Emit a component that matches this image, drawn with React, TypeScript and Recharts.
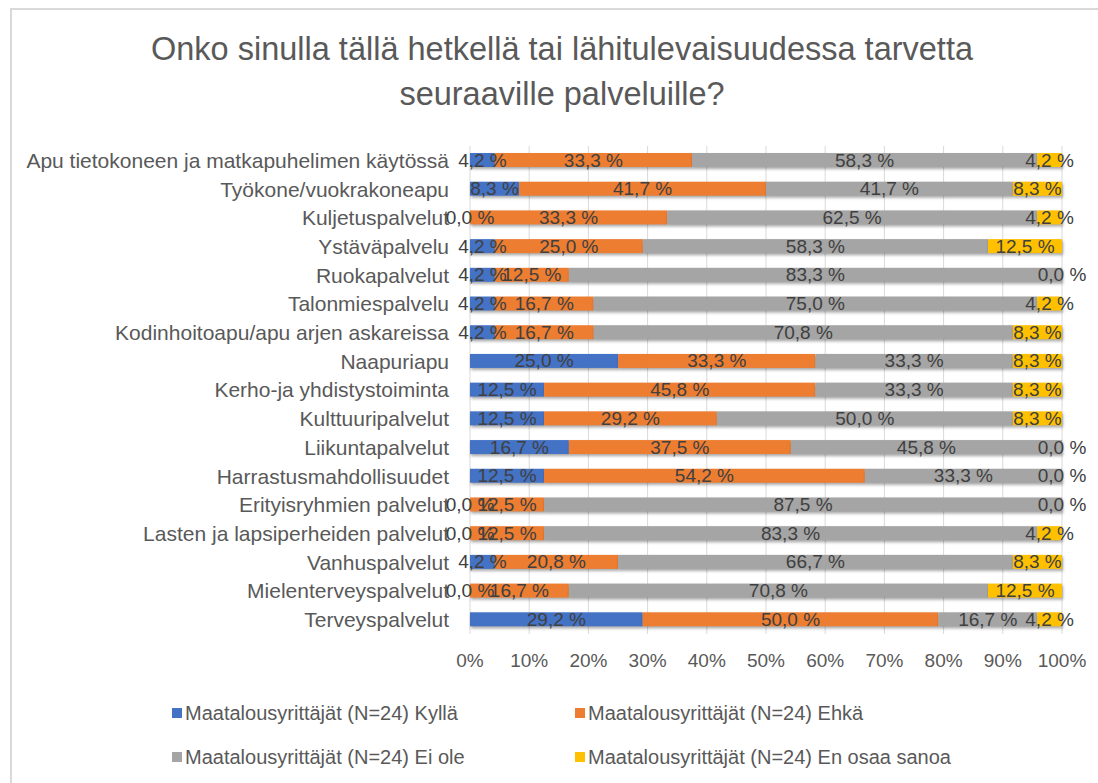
import { BarChart, Bar, XAxis, YAxis, CartesianGrid, LabelList } from "recharts";

const categories = [
  "Apu tietokoneen ja matkapuhelimen käytössä",
  "Työkone/vuokrakoneapu",
  "Kuljetuspalvelut",
  "Ystäväpalvelu",
  "Ruokapalvelut",
  "Talonmiespalvelu",
  "Kodinhoitoapu/apu arjen askareissa",
  "Naapuriapu",
  "Kerho-ja yhdistystoiminta",
  "Kulttuuripalvelut",
  "Liikuntapalvelut",
  "Harrastusmahdollisuudet",
  "Erityisryhmien palvelut",
  "Lasten ja lapsiperheiden palvelut",
  "Vanhuspalvelut",
  "Mielenterveyspalvelut",
  "Terveyspalvelut",
];

const kylla = [4.2, 8.3, 0.0, 4.2, 4.2, 4.2, 4.2, 25.0, 12.5, 12.5, 16.7, 12.5, 0.0, 0.0, 4.2, 0.0, 29.2];
const ehka = [33.3, 41.7, 33.3, 25.0, 12.5, 16.7, 16.7, 33.3, 45.8, 29.2, 37.5, 54.2, 12.5, 12.5, 20.8, 16.7, 50.0];
const eiOle = [58.3, 41.7, 62.5, 58.3, 83.3, 75.0, 70.8, 33.3, 33.3, 50.0, 45.8, 33.3, 87.5, 83.3, 66.7, 70.8, 16.7];
const enOsaa = [4.2, 8.3, 4.2, 12.5, 0.0, 4.2, 8.3, 8.3, 8.3, 8.3, 0.0, 0.0, 0.0, 4.2, 8.3, 12.5, 4.2];

const xTicks = [0, 0.1, 0.2, 0.3, 0.4, 0.5, 0.6, 0.7, 0.8, 0.9, 1];

const series = [
  { key: "kylla", name: "Maatalousyrittäjät (N=24) Kyllä", color: "#4472C4" },
  { key: "ehka", name: "Maatalousyrittäjät (N=24) Ehkä", color: "#ED7D31" },
  { key: "eiOle", name: "Maatalousyrittäjät (N=24) Ei ole", color: "#A5A5A5" },
  { key: "enOsaa", name: "Maatalousyrittäjät (N=24) En osaa sanoa", color: "#FFC000" },
];

const data = categories.map((name, i) => ({
  name,
  kylla: kylla[i],
  ehka: ehka[i],
  eiOle: eiOle[i],
  enOsaa: enOsaa[i],
}));

const FONT = "'Liberation Sans', Arial, sans-serif";

const fmt = (v: any) => `${Number(v).toFixed(1).replace(".", ",")} %`;

const ShadowRect = (props: any) => {
  const { x, y, width, height, fill } = props;
  if (!width || width <= 0) return null;
  return (
    <rect
      x={x}
      y={y}
      width={width}
      height={height}
      fill={fill}
      style={{ filter: "drop-shadow(1.5px 2.5px 1.5px rgba(0,0,0,0.35))" }}
    />
  );
};

// single-line label centred on the segment (no wrapping)
const SegLabel = (props: any) => {
  const { x, y, width, height, value } = props;
  return (
    <text
      x={Number(x) + Number(width) / 2}
      y={Number(y) + Number(height) / 2}
      textAnchor="middle"
      dominantBaseline="central"
      fill="#404040"
      fontSize={19}
      fontFamily={FONT}
    >
      {fmt(value)}
    </text>
  );
};

export default function App() {
  return (
    <div
      style={{
        position: "absolute",
        left: 0,
        top: 0,
        width: 1098,
        height: 783,
        background: "#fff",
        fontFamily: FONT,
        overflow: "hidden",
      }}
    >
      <div
        style={{
          position: "absolute",
          left: 10,
          top: 8,
          width: 1200,
          height: 900,
          border: "2px solid #d9d9d9",
        }}
      />
      <div
        style={{
          position: "absolute",
          left: 0,
          top: 27,
          width: 1124,
          textAlign: "center",
          fontSize: 32.5,
          lineHeight: "45px",
          color: "#595959",
        }}
      >
        Onko sinulla tällä hetkellä tai lähitulevaisuudessa tarvetta
        <br />
        seuraaville palveluille?
      </div>

      <div style={{ position: "absolute", left: 0, top: 0 }}>
        <BarChart
          width={1098}
          height={700}
          data={data}
          layout="vertical"
          stackOffset="expand"
          barSize={14}
          margin={{ top: 146, right: 36, left: 0, bottom: 0 }}
        >
          <CartesianGrid horizontal={false} stroke="#d9d9d9" strokeWidth={1} />
          <XAxis
            type="number"
            domain={[0, 1]}
            ticks={xTicks}
            tickFormatter={(v) => `${Math.round(v * 100)}%`}
            axisLine={false}
            tickLine={false}
            tickMargin={14}
            height={66}
            tick={{ fill: "#595959", fontSize: 19, fontFamily: FONT }}
            interval={0}
          />
          <YAxis
            type="category"
            dataKey="name"
            width={470}
            axisLine={false}
            tickLine={false}
            tickMargin={15}
            interval={0}
            tick={{ fill: "#595959", fontSize: 21, fontFamily: FONT }}
          />
          {series.map((s) => (
            <Bar
              key={s.key}
              dataKey={s.key}
              name={s.name}
              stackId="a"
              fill={s.color}
              shape={<ShadowRect />}
              isAnimationActive={false}
            >
              <LabelList dataKey={s.key} content={<SegLabel />} />
            </Bar>
          ))}
        </BarChart>
      </div>

      <div
        style={{
          position: "absolute",
          left: 172,
          top: 701,
          width: 880,
          display: "grid",
          gridTemplateColumns: "403px 440px",
          rowGap: 20,
          fontSize: 20,
          color: "#595959",
        }}
      >
        {series.map((s) => (
          <div key={s.key} style={{ display: "flex", alignItems: "center", height: 24 }}>
            <span
              style={{
                display: "inline-block",
                width: 10,
                height: 10,
                background: s.color,
                marginRight: 3,
              }}
            />
            {s.name}
          </div>
        ))}
      </div>
    </div>
  );
}
